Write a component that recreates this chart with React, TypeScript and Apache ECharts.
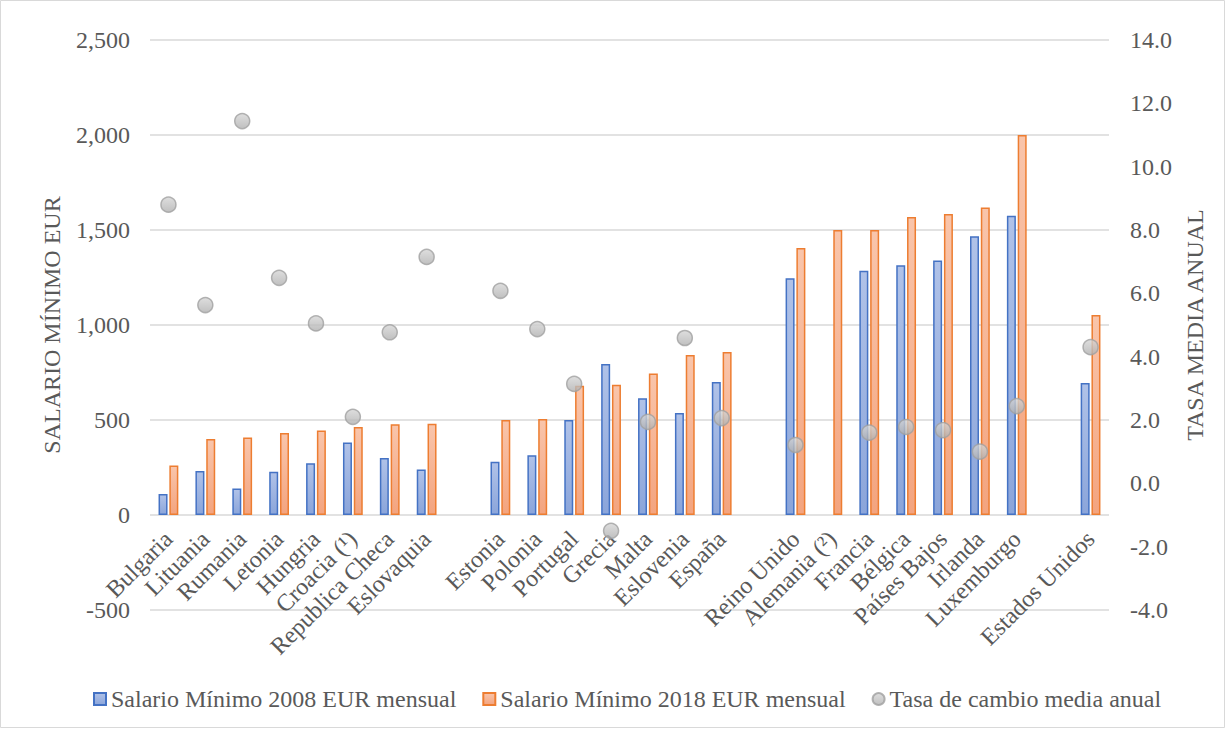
import React, { useEffect, useRef } from "react";
import * as echarts from "echarts";

const categories = [
  "Bulgaria", "Lituania", "Rumania", "Letonia", "Hungria", "Croacia (¹)", "Republica Checa", "Eslovaquia",
  "",
  "Estonia", "Polonia", "Portugal", "Grecia", "Malta", "Eslovenia", "España",
  "",
  "Reino Unido", "Alemania (²)", "Francia", "Bélgica", "Países Bajos", "Irlanda", "Luxemburgo",
  "",
  "Estados Unidos",
];
const salario2008 = [110, 232, 139, 228, 272, 381, 300, 240, null, 280, 315, 500, 795, 615, 537, 700, null, 1246, null, 1286, 1314, 1340, 1467, 1575, null, 695];
const salario2018 = [260, 400, 408, 431, 445, 463, 478, 480, null, 500, 505, 680, 685, 745, 842, 858, null, 1405, 1500, 1500, 1568, 1584, 1619, 2000, null, 1052];
const tasaCambio = [8.8, 5.63, 11.44, 6.49, 5.05, 2.1, 4.77, 7.15, null, 6.08, 4.87, 3.14, -1.5, 1.94, 4.59, 2.06, null, 1.21, null, 1.6, 1.78, 1.68, 1.0, 2.44, null, 4.3];

const seriesNames = ["Salario Mínimo 2008 EUR mensual", "Salario Mínimo 2018 EUR mensual", "Tasa de cambio media anual"];
const leftTicks = { min: -500, max: 2500, interval: 500 };
const rightTicks = { min: -4, max: 14, interval: 2 };

const FONT = "Liberation Serif, Times New Roman, serif";
const TXT = "#595959";
const FS = 24;

export default function App() {
  const ref = useRef<HTMLDivElement>(null);
  useEffect(() => {
    if (!ref.current) return;
    const chart = echarts.init(ref.current, undefined, { renderer: "svg" });
    const grad = (a: string, b: string) =>
      new echarts.graphic.LinearGradient(0, 0, 0, 1, [
        { offset: 0, color: a },
        { offset: 1, color: b },
      ]);
    chart.setOption({
      animation: false,
      backgroundColor: "#ffffff",
      textStyle: { fontFamily: FONT, color: TXT },
      graphic: [
        {
          type: "rect",
          shape: { x: 0.5, y: 0.5, width: 1224, height: 727 },
          style: { fill: "none", stroke: "#d9d9d9", lineWidth: 1 },
          silent: true,
        },
      ],
      grid: { left: 150, right: 117, top: 40, bottom: 119 },
      legend: {
        top: 682,
        left: 88,
        itemGap: 26,
        itemWidth: 12,
        itemHeight: 12,
        textStyle: { fontFamily: FONT, fontSize: FS, color: TXT },
        data: [
          { name: seriesNames[0], icon: "rect" },
          { name: seriesNames[1], icon: "rect" },
          { name: seriesNames[2], icon: "circle" },
        ],
      },
      xAxis: {
        type: "category",
        data: categories,
        axisTick: { show: false },
        axisLine: { show: false, onZero: false },
        axisLabel: {
          rotate: 45,
          interval: 0,
          margin: -75,
          fontFamily: FONT,
          fontSize: FS,
          color: TXT,
        },
      },
      yAxis: [
        {
          type: "value",
          ...leftTicks,
          name: "SALARIO MÍNIMO EUR",
          nameLocation: "middle",
          nameGap: 86,
          nameRotate: 90,
          nameTextStyle: { fontFamily: FONT, fontSize: FS, color: TXT },
          axisLine: { show: false },
          axisTick: { show: false },
          splitLine: { lineStyle: { color: "#d9d9d9", width: 1.5 } },
          axisLabel: {
            margin: 20,
            fontFamily: FONT,
            fontSize: FS,
            color: TXT,
            formatter: (v: number) => v.toLocaleString("en-US"),
          },
        },
        {
          type: "value",
          ...rightTicks,
          name: "TASA MEDIA ANUAL",
          nameLocation: "middle",
          nameGap: 67,
          nameRotate: 90,
          nameTextStyle: { fontFamily: FONT, fontSize: FS, color: TXT },
          axisLine: { show: false },
          axisTick: { show: false },
          splitLine: { show: false },
          axisLabel: {
            margin: 21,
            fontFamily: FONT,
            fontSize: FS,
            color: TXT,
            formatter: (v: number) => v.toFixed(1),
          },
        },
      ],
      series: [
        {
          name: seriesNames[0],
          type: "bar",
          yAxisIndex: 0,
          data: salario2008,
          barWidth: 9,
          barGap: "20%",
          itemStyle: {
            color: grad("#b0c2e8", "#8ba5da"),
            borderColor: "#4472c4",
            borderWidth: 1.5,
          },
        },
        {
          name: seriesNames[1],
          type: "bar",
          yAxisIndex: 0,
          data: salario2018,
          barWidth: 9,
          barGap: "20%",
          itemStyle: {
            color: grad("#f9c5ab", "#f3a47f"),
            borderColor: "#ed7d31",
            borderWidth: 1.5,
          },
        },
        {
          name: seriesNames[2],
          type: "scatter",
          yAxisIndex: 1,
          data: tasaCambio,
          symbol: "circle",
          symbolSize: 15,
          z: 5,
          itemStyle: {
            color: grad("#d6d6d6", "#b0b0b0"),
            borderColor: "#a0a0a0",
            borderWidth: 1.5,
          },
        },
      ],
    });
    return () => chart.dispose();
  }, []);
  return (
    <div
      ref={ref}
      style={{ position: "fixed", left: 0, top: 0, width: 1226, height: 729 }}
    />
  );
}
